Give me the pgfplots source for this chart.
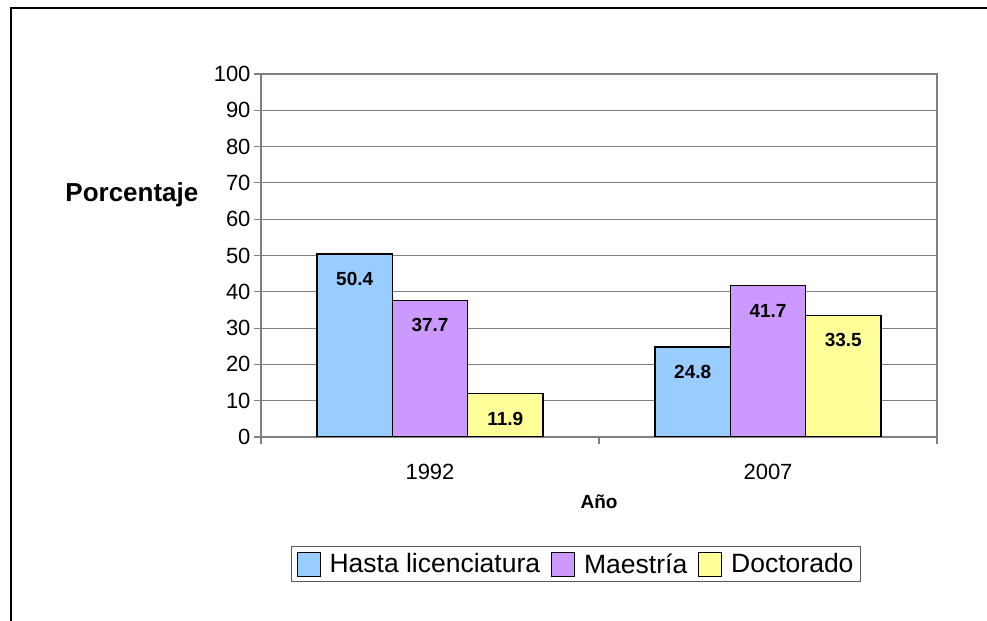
\documentclass[border=0pt]{standalone}
\usepackage{fontspec}
\setmainfont{Liberation Sans}
\usepackage{pgfplots}
\pgfplotsset{compat=1.18}
\definecolor{cblue}{HTML}{99CCFF}
\definecolor{cpurple}{HTML}{CC99FF}
\definecolor{cyellow}{HTML}{FFFF99}
\definecolor{axgray}{HTML}{808080}
\begin{document}
\begin{tikzpicture}
\useasboundingbox (0,0) rectangle (987bp,621bp);
\draw[line width=2.2bp] (11bp,0) -- (11bp,613bp) -- (987bp,613bp);
\begin{axis}[
  at={(261bp,184bp)}, anchor=south west,
  scale only axis, width=676bp, height=363bp,
  ybar=0pt, bar width=75.3bp,
  xmin=-0.5, xmax=1.5, ymin=0, ymax=100,
  xtick={0,1}, xticklabels={1992,2007},
  minor xtick={-0.5,0.5,1.5},
  ytick={0,10,...,100},
  xtick pos=lower, ytick pos=left,
  ymajorgrids, grid style={axgray, line width=0.9bp},
  axis line style={axgray, line width=1.1bp},
  tick align=outside,
  major tick length=7bp, minor tick length=7bp,
  tick style={axgray, line width=1.1bp},
  major x tick style={draw=none},
  /pgf/number format/assume math mode=true,
  ticklabel style={font=\fontsize{22bp}{26bp}\selectfont},
  xticklabel style={yshift=-17bp},
  xlabel={Año}, ylabel={Porcentaje},
  xlabel style={font=\bfseries\fontsize{19bp}{22bp}\selectfont, at={(axis description cs:0.5,-0.179)}, anchor=center},
  ylabel style={font=\bfseries\fontsize{26bp}{30bp}\selectfont, rotate=-90, at={(axis description cs:-0.191,0.667)}, anchor=center},
  nodes near coords={\pgfmathprintnumber[fixed,fixed zerofill,precision=1]{\pgfplotspointmeta}},
  nodes near coords style={font=\bfseries\fontsize{19bp}{21bp}\selectfont, anchor=center, yshift=-25bp, text=black},
  every axis plot post/.append style={legend image code/.code={\draw[#1, line width=1bp] (0bp,-12bp) rectangle (23bp,12bp);}},
  legend columns=3,
  legend style={at={(axis description cs:0.466,-0.350)}, anchor=center, draw=black!65, line width=1.1bp,
    font=\fontsize{26.5bp}{30bp}\selectfont, inner xsep=5bp, inner ysep=5bp,
    /tikz/every odd column/.append style={column sep=7bp},
    /tikz/every even column/.append style={column sep=9bp}},
]
\addplot[fill=cblue, draw=black, line width=1.2bp] coordinates {(0,50.4) (1,24.8)};
\addplot[fill=cpurple, draw=black, line width=1.2bp] coordinates {(0,37.7) (1,41.7)};
\addplot[fill=cyellow, draw=black, line width=1.2bp] coordinates {(0,11.9) (1,33.5)};
\legend{Hasta licenciatura, Maestría, Doctorado}
\end{axis}
\end{tikzpicture}
\end{document}
